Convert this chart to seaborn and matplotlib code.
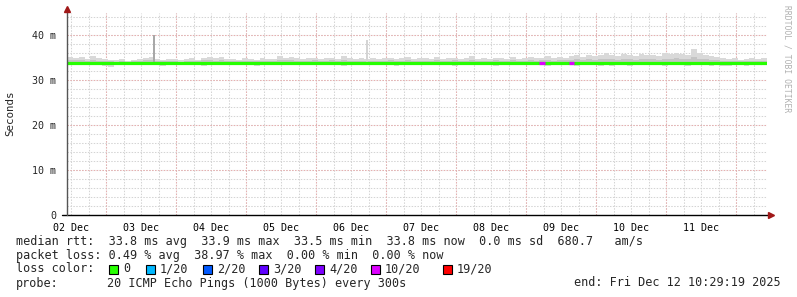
import numpy as np
import pandas as pd
import matplotlib
matplotlib.use("Agg")
import matplotlib.pyplot as plt
import seaborn as sns

# ---------------- data ----------------
# 120 bins of 2 hours, from Tue Dec 02 10:29 to Fri Dec 12 10:29
bin_hours = 2.0
rtt_upper = [35.2, 35.0, 35.1, 34.7, 35.4, 34.8, 34.6, 34.5, 34.4, 34.6,
             34.3, 34.5, 34.7, 35.0, 35.2, 34.6, 34.5, 34.7, 34.6, 34.4,
             34.6, 34.8, 34.5, 35.0, 35.1, 34.9, 35.2, 34.7, 34.6, 34.5,
             34.8, 34.6, 34.5, 34.9, 34.7, 34.6, 35.3, 35.0, 35.2, 34.8,
             34.7, 34.9, 35.0, 34.6, 34.8, 35.0, 34.7, 35.3, 34.9, 34.6,
             34.8, 34.7, 34.9, 34.6, 34.8, 35.0, 34.7, 34.9, 35.2, 34.6,
             34.8, 34.9, 34.6, 35.1, 34.7, 34.8, 35.0, 34.6, 34.9, 35.3,
             34.7, 34.8, 34.6, 35.0, 34.8, 34.7, 35.1, 34.6, 34.9, 35.2,
             34.8, 35.0, 35.4, 34.9, 35.1, 35.0, 35.3, 35.6, 35.2, 35.5,
             35.4, 35.6, 35.9, 35.5, 35.3, 35.7, 35.6, 35.4, 35.8, 35.5,
             35.6, 35.4, 35.9, 35.7, 36.1, 35.8, 35.5, 36.9, 35.9, 35.6,
             35.4, 35.2, 34.9, 34.6, 34.8, 34.5, 34.7, 34.9, 34.6, 34.8]
rtt_lower = [33.4, 33.3, 33.4, 33.5, 33.4, 33.3, 33.2, 33.0, 33.3, 33.4,
             33.4, 33.3, 33.5, 33.4, 33.3, 33.4, 33.2, 33.4, 33.3, 33.5,
             33.4, 33.3, 33.4, 33.2, 33.4, 33.3, 33.5, 33.4, 33.3, 33.4,
             33.3, 33.4, 33.2, 33.4, 33.5, 33.3, 33.4, 33.3, 33.4, 33.5,
             33.3, 33.4, 33.3, 33.5, 33.4, 33.3, 33.4, 33.2, 33.4, 33.3,
             33.4, 33.5, 33.3, 33.4, 33.3, 33.4, 33.2, 33.4, 33.3, 33.4,
             33.4, 33.3, 33.5, 33.4, 33.3, 33.4, 33.2, 33.4, 33.3, 33.4,
             33.3, 33.4, 33.3, 33.1, 33.4, 33.3, 33.4, 33.5, 33.3, 33.4,
             33.3, 33.4, 33.2, 33.4, 33.3, 33.4, 33.3, 33.2, 33.4, 33.3,
             33.4, 33.2, 33.3, 33.1, 33.3, 33.4, 33.2, 33.3, 33.4, 33.3,
             33.3, 33.4, 33.2, 33.3, 33.4, 33.3, 33.2, 33.3, 33.4, 33.3,
             33.2, 33.3, 33.1, 33.2, 33.3, 33.4, 33.2, 33.3, 33.3, 33.4]
rtt_median = [33.8] * 120
loss_count = [0] * 120
loss_count[81] = 10
loss_count[86] = 10
spike_hours = [29.6, 102.4]
spike_top = [40.0, 39.0]
spike_color = ["#a8a8a8", "#d4d4d4"]

day_labels = ["02 Dec", "03 Dec", "04 Dec", "05 Dec", "06 Dec",
              "07 Dec", "08 Dec", "09 Dec", "10 Dec", "11 Dec"]
first_midnight_h = 13.51   # Dec 03 00:00 relative to graph start
y_ticks = [0, 10, 20, 30, 40]
y_labels = ["0", "10 m", "20 m", "30 m", "40 m"]

loss_levels = ["0", "1/20", "2/20", "3/20", "4/20", "10/20", "19/20"]
loss_colors = ["#26ff00", "#00b8ff", "#0059ff", "#5e00ff", "#7e00ff", "#dd00ff", "#ff0000"]

legend_line1 = "median rtt:  33.8 ms avg  33.9 ms max  33.5 ms min  33.8 ms now  0.0 ms sd  680.7   am/s"
legend_line2 = "packet loss: 0.49 % avg  38.97 % max  0.00 % min  0.00 % now"
probe_text = "20 ICMP Echo Pings (1000 Bytes) every 300s"
end_text = "end: Fri Dec 12 10:29:19 2025"

# ---------------- figure ----------------
sns.set_style("white")
plt.rcParams["font.family"] = ["DejaVu Sans Mono", "DejaVu Sans"]
W, H = 797, 297
fig = plt.figure(figsize=(W / 100, H / 100), dpi=100)
x0, x1, ybot, ytop = 67, 767, 215, 12.5
ax = fig.add_axes([x0 / W, 1 - ybot / H, (x1 - x0) / W, (ybot - ytop) / H])
total_h = len(rtt_upper) * bin_hours
ax.set_xlim(0, total_h)
ax.set_ylim(0, 45)

df = pd.DataFrame({"t": np.arange(len(rtt_upper)) * bin_hours,
                   "upper": rtt_upper, "lower": rtt_lower,
                   "median": rtt_median, "loss": loss_count})
t_ext = np.append(df["t"].values, total_h)
up = np.append(df["upper"].values, rtt_upper[-1])
lo = np.append(df["lower"].values, rtt_lower[-1])
md = np.append(df["median"].values, rtt_median[-1])

# grid
minor_x = np.arange(first_midnight_h - 12, total_h, 6.0)
minor_x = minor_x[minor_x > 0]
major_x = np.arange(first_midnight_h, total_h, 24.0)
noon_x = np.arange(first_midnight_h - 12, total_h, 24.0)
dot = (0, (1.4, 1.4))
for xv in minor_x:
    ax.axvline(xv, color="#d4d4d4", lw=0.75, ls=dot, zorder=0)
for yv in np.arange(2, 45, 2):
    ax.axhline(yv, color="#d4d4d4", lw=0.75, ls=dot, zorder=0)
for xv in major_x:
    ax.axvline(xv, color="#e6b0b0", lw=0.75, ls=dot, zorder=0.5)
for yv in y_ticks[1:]:
    ax.axhline(yv, color="#e6b0b0", lw=0.75, ls=dot, zorder=0.5)

# smoke
ax.fill_between(t_ext, lo, up, step="post", color="#d9d9d9", lw=0, zorder=1)
ax.fill_between(t_ext, md - 0.6 * (md - lo), md + 0.45 * (up - md), step="post",
                color="#c4c4c4", lw=0, zorder=1.1)
for sh, st, sc in zip(spike_hours, spike_top, spike_color):
    ax.fill_between([sh, sh + 0.7], 33.8, st, color=sc, lw=0, zorder=1.2)
ax.fill_between(t_ext, md - 0.45, md - 0.2, step="post", color="#8e8e8e", lw=0, zorder=1.3)

# median line coloured by loss
sns.lineplot(data=df, x="t", y="median", drawstyle="steps-post", color=loss_colors[0],
             lw=2.3, ax=ax, zorder=3)
ax.plot([total_h - bin_hours, total_h], [rtt_median[-1]] * 2, color=loss_colors[0], lw=2.3, zorder=3)
for _, r in df[df["loss"] > 0].iterrows():
    ax.hlines(r["median"], r["t"], r["t"] + bin_hours, color=loss_colors[5], lw=2.3, zorder=3.5)

# axes / ticks
for s in ax.spines.values():
    s.set_visible(False)
ax.set_xticks(noon_x)
ax.set_xticklabels(day_labels[:len(noon_x)])
ax.set_xticks(minor_x, minor=True)
ax.set_yticks(y_ticks)
ax.set_yticklabels(y_labels)
ax.tick_params(axis="x", which="major", length=0, pad=6, labelsize=7.2, colors="black")
ax.tick_params(axis="x", which="minor", length=2, width=0.7, color="#555555", direction="out")
ax.tick_params(axis="y", which="major", length=2, width=0.7, pad=6, labelsize=7.2, color="#555555")
ax.set_xlabel("")
ax.set_ylabel("Seconds", fontsize=7.8)
ax.yaxis.set_label_coords(-52 / (x1 - x0), 0.5)

# axis lines with arrows (RRDtool style)
ax.plot([-5 / 700 * total_h, total_h + 1.0], [0, 0], color="black", lw=1, clip_on=False, zorder=5)
ax.plot([0, 0], [0, 45.6], color="#555555", lw=1, clip_on=False, zorder=5)
ax.plot([total_h + 1.3], [0], marker=">", ms=4, color="#a01818", clip_on=False, zorder=6)
ax.plot([0], [45.8], marker="^", ms=4, color="#a01818", clip_on=False, zorder=6)

# watermark
fig.text(787 / W, 1 - 5 / H, "RRDTOOL / TOBI OETIKER", rotation=270, fontsize=5.8,
         color="#b0b0b0", ha="center", va="top")

# legend text
fs = 8.5
def fy(y):
    return 1 - y / H
fig.text(16 / W, fy(241), legend_line1, fontsize=fs, va="center", ha="left")
fig.text(16 / W, fy(255.5), legend_line2, fontsize=fs, va="center", ha="left")
fig.text(16 / W, fy(269), "loss color:", fontsize=fs, va="center", ha="left")
sq_x = [109, 146, 203, 259, 315, 371, 443]
for sx, lab, col in zip(sq_x, loss_levels, loss_colors):
    fig.patches.append(matplotlib.patches.Rectangle((sx / W, fy(273.5)), 9 / W, 9 / H,
                       transform=fig.transFigure, facecolor=col, edgecolor="black", lw=0.8))
    fig.text((sx + 14) / W, fy(269), lab, fontsize=fs, va="center", ha="left")
fig.text(16 / W, fy(283), "probe:", fontsize=fs, va="center", ha="left")
fig.text(107 / W, fy(283), probe_text, fontsize=fs, va="center", ha="left")
fig.text(781 / W, fy(283), end_text, fontsize=fs, va="center", ha="right")

fig.savefig("out.png", dpi=100, facecolor="white")
